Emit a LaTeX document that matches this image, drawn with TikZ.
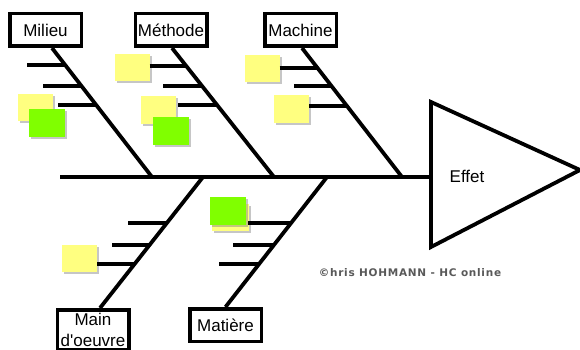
\documentclass[tikz,border=0pt]{standalone}
\usepackage{fontspec}
\setmainfont{Liberation Sans}
\newfontfamily\copyfont[LetterSpace=7]{DejaVu Sans}
\usetikzlibrary{shadows}
\definecolor{noteyellow}{RGB}{255,255,128}
\definecolor{notegreen}{RGB}{128,255,0}

\begin{document}
\begin{tikzpicture}[x=1pt, y=-1pt,
  every node/.style = {font=\fontsize{17}{21}\selectfont},
  cause/.style = {draw, line width=3.5pt, minimum width=71.5pt, minimum height=32.5pt, inner sep=2pt, fill=white},
  bone/.style = {line width=3.8pt},
  postit/.style = {minimum width=35pt, minimum height=27pt, inner sep=0pt,
                   drop shadow={shadow xshift=2pt, shadow yshift=-2pt, opacity=0.45}},
  yellow note/.style = {postit, fill=noteyellow},
  green note/.style = {postit, fill=notegreen, minimum width=36pt, minimum height=28pt}
  ]
  \useasboundingbox (0,0) rectangle (580,350);
  \clip (0,0) rectangle (580,350);

  % spine and effect
  \coordinate (tail) at (60,177);
  \coordinate (head) at (431,177);
  \draw[line width=3.8pt, line join=miter] (431,102) coordinate (eff-t) -- (580,170) coordinate (eff-p)
        -- (431,247) coordinate (eff-b) -- cycle;
  \node (effet) at (467,176) {Effet};
  \draw[line width=4.2pt] (tail) -- (head);

  \coordinate (mil-s) at (152,177);
  \coordinate (met-s) at (274,177);
  \coordinate (mac-s) at (402,177);
  \coordinate (mo-s) at (203,177);
  \coordinate (mat-s) at (327,177);

  % causes
  \node[cause] (milieu) at (45.5,30) {Milieu};
  \node[cause] (methode) at (171,30) {Méthode};
  \node[cause] (machine) at (300.5,30) {Machine};
  \node[cause, anchor=north, align=center, inner xsep=1pt, inner ysep=3.5pt] (mainoeuvre) at (93,308)
        {Main\\d\textquotesingle oeuvre};
  \node[cause] (matiere) at (225.5,325) {Matière};

  % bones
  \draw[bone] ([xshift=6.5pt]milieu.south) -- (mil-s)
        coordinate[pos=0.142] (mil1) coordinate[pos=0.303] (mil2) coordinate[pos=0.448] (mil3);
  \draw[bone] ([xshift=1pt]methode.south) -- (met-s)
        coordinate[pos=0.142] (met1) coordinate[pos=0.303] (met2) coordinate[pos=0.448] (met3);
  \draw[bone] ([xshift=1.5pt]machine.south) -- (mac-s)
        coordinate[pos=0.155] (mac1) coordinate[pos=0.303] (mac2) coordinate[pos=0.448] (mac3);
  \draw[bone] ([xshift=7pt]mainoeuvre.north) -- (mo-s)
        coordinate[pos=0.648] (mo1) coordinate[pos=0.479] (mo2) coordinate[pos=0.333] (mo3);
  \draw[bone] (matiere.north) -- (mat-s)
        coordinate[pos=0.650] (mat1) coordinate[pos=0.483] (mat2) coordinate[pos=0.338] (mat3);

  % post-its
  \node[yellow note] (mil-y) at (35.5,107.5) {};
  \node[green note] (mil-g) at (47,123) {};
  \node[yellow note] (met-y1) at (132,67.5) {};
  \node[yellow note] (met-y2) at (158,110) {};
  \node[green note] (met-g) at (170.5,131) {};
  \node[yellow note] (mac-y1) at (262,69) {};
  \node[yellow note] (mac-y2) at (291.5,109) {};
  \node[yellow note] (mo-y) at (79.5,258.5) {};
  \node[yellow note, minimum width=37pt] (mat-y) at (230.5,217) {};
  \node[green note] (mat-g) at (228,210.5) {};

  % sub-causes
  \coordinate (mil1e) at (27,65);
  \coordinate (mil2e) at (43,86);
  \coordinate (mil3e) at (58,105);
  \coordinate (met2e) at (163,86);
  \coordinate (met3e) at (178,105);
  \coordinate (mac2e) at (294,86);
  \coordinate (mo1e) at (128,223);
  \coordinate (mo2e) at (112,245);
  \coordinate (mat1e) at (248,223);
  \coordinate (mat2e) at (233,245);
  \coordinate (mat3e) at (219,264);
  \draw[bone] (mil1e) -- (mil1e -| mil1);
  \draw[bone] (mil2e) -- (mil2e -| mil2);
  \draw[bone] (mil3e) -- (mil3e -| mil3);
  \draw[bone] (met1 -| met-y1.east) -- (met1);
  \draw[bone] (met2e) -- (met2e -| met2);
  \draw[bone] (met3e) -- (met3e -| met3);
  \draw[bone] (mac1 -| mac-y1.east) -- (mac1);
  \draw[bone] (mac2e) -- (mac2e -| mac2);
  \draw[bone] (mac3 -| mac-y2.east) -- (mac3);
  \draw[bone] (mo1e) -- (mo1e -| mo1);
  \draw[bone] (mo2e) -- (mo2e -| mo2);
  \draw[bone] (mo3 -| mo-y.east) -- (mo3);
  \draw[bone] (mat1e) -- (mat1e -| mat1);
  \draw[bone] (mat2e) -- (mat2e -| mat2);
  \draw[bone] (mat3e) -- (mat3e -| mat3);

  \node[font=\copyfont\bfseries\fontsize{10.5}{12}\selectfont, text=black!65] (copy) at (410,273)
        {©hris HOHMANN - HC online};
\end{tikzpicture}
\end{document}
